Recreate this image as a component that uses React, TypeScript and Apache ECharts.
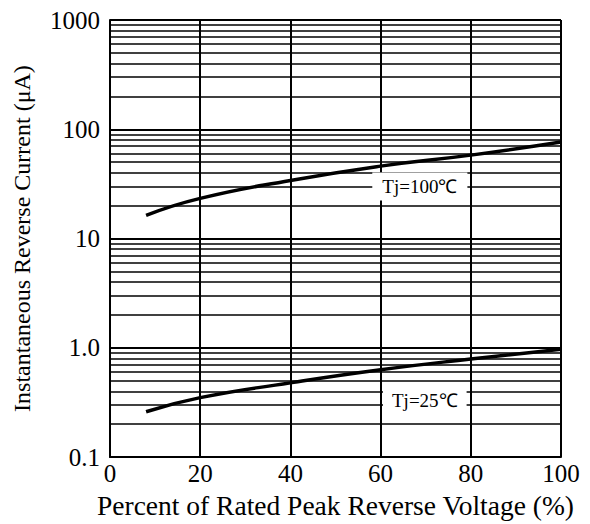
import React, { useEffect, useRef } from "react";
import * as echarts from "echarts";

const xPercent = [8, 20, 40, 60, 80, 100];
const current100C = [16.3, 23.3, 34, 46, 58, 76.5];
const current25C = [0.26, 0.35, 0.478, 0.63, 0.79, 0.97];
const decades = [0.1, 1, 10, 100];
const minorMultipliers = [2, 3, 4, 5, 6, 7, 8, 9];
const label100 = { text: "Tj=100℃", x: 68.7, y: 29.9 };
const label25 = { text: "Tj=25℃", x: 69.8, y: 0.329 };

export default function App() {
  const ref = useRef<HTMLDivElement>(null);
  useEffect(() => {
    if (!ref.current) return;
    const chart = echarts.init(ref.current, null, { renderer: "svg" });
    const font = "Liberation Serif";
    const minorLines: number[] = [];
    decades.forEach((d) => minorMultipliers.forEach((m) => minorLines.push(+(d * m).toPrecision(3))));
    const labelPoint = (l: { text: string; x: number; y: number }, pad: number[]) => ({
      coord: [l.x, l.y],
      symbol: "rect",
      symbolSize: 1,
      itemStyle: { color: "transparent" },
      label: {
        show: true,
        position: "inside",
        formatter: l.text,
        color: "#000",
        fontFamily: font,
        fontSize: 19,
        backgroundColor: "#fff",
        padding: pad,
      },
    });
    chart.setOption({
      animation: false,
      backgroundColor: "#fff",
      grid: { left: 110, right: 29, top: 20, bottom: 63, show: false },
      xAxis: {
        type: "value",
        min: 0,
        max: 100,
        interval: 20,
        name: "Percent of Rated Peak Reverse Voltage (%)",
        nameLocation: "middle",
        nameGap: 30,
        nameTextStyle: { fontFamily: font, fontSize: 27.5, color: "#000" },
        axisLine: { show: true, lineStyle: { color: "#000", width: 2 } },
        axisTick: { show: false },
        axisLabel: { fontFamily: font, fontSize: 25, color: "#000", margin: 4 },
        splitLine: { show: true, lineStyle: { color: "#000", width: 2 } },
      },
      yAxis: {
        type: "log",
        logBase: 10,
        min: 0.1,
        max: 1000,
        name: "Instantaneous Reverse Current (μA)",
        nameLocation: "middle",
        nameGap: 76,
        nameTextStyle: { fontFamily: font, fontSize: 24, color: "#000" },
        axisLine: { show: true, lineStyle: { color: "#000", width: 2 } },
        axisTick: { show: false },
        axisLabel: {
          fontFamily: font,
          fontSize: 25,
          color: "#000",
          margin: 10,
          formatter: (v: number) => (v === 1 ? "1.0" : String(v)),
        },
        splitLine: { show: true, lineStyle: { color: "#000", width: 2 } },
      },
      series: [
        {
          type: "line",
          data: xPercent.map((x, i) => [x, current100C[i]]),
          smooth: true,
          showSymbol: false,
          lineStyle: { color: "#000", width: 3.5 },
          z: 5,
          markLine: {
            silent: true,
            symbol: "none",
            label: { show: false },
            lineStyle: { color: "#000", width: 1.5, type: "solid" },
            data: minorLines.map((v) => ({ yAxis: v })),
          },
          markPoint: { data: [labelPoint(label100, [5, 10, 4, 10])] },
        },
        {
          type: "line",
          data: xPercent.map((x, i) => [x, current25C[i]]),
          smooth: true,
          showSymbol: false,
          lineStyle: { color: "#000", width: 3.5 },
          z: 5,
          markPoint: { data: [labelPoint(label25, [2, 9, 1, 9])] },
        },
      ],
    });
    return () => chart.dispose();
  }, []);
  return (
    <div
      ref={ref}
      style={{ position: "fixed", left: 0, top: 0, width: 590, height: 524, background: "#fff" }}
    />
  );
}
